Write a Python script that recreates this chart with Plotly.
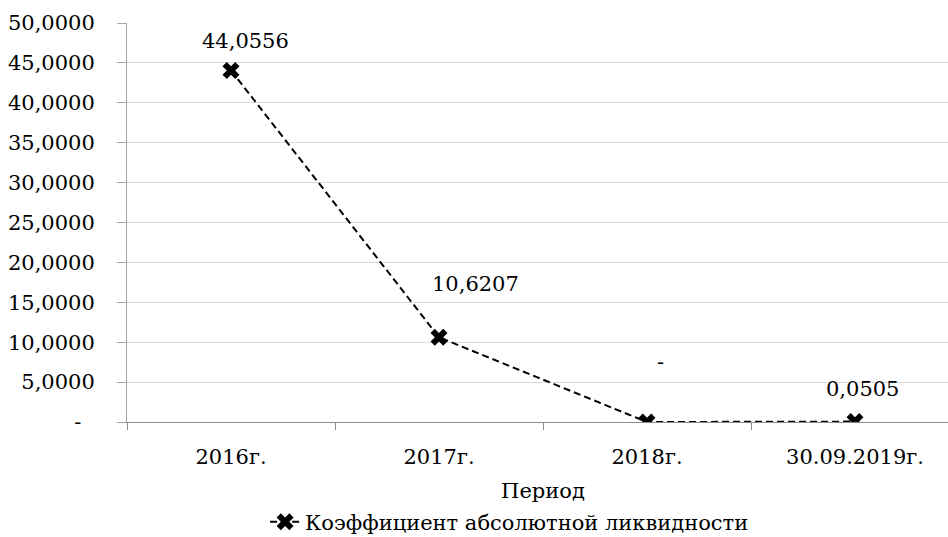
import plotly.graph_objects as go

periods = ["2016г.", "2017г.", "2018г.", "30.09.2019г."]
values = [44.0556, 10.6207, 0.0, 0.0505]
value_labels = ["44,0556", "10,6207", "-", "0,0505"]
series_name = "Коэффициент абсолютной ликвидности"
y_tickvals = [0, 5, 10, 15, 20, 25, 30, 35, 40, 45, 50]
y_ticktext = ["-\u00a0\u00a0", "5,0000", "10,0000", "15,0000", "20,0000", "25,0000",
              "30,0000", "35,0000", "40,0000", "45,0000", "50,0000"]
x_title = "Период"

FONT = "DejaVu Serif"
FS = 21

fig = go.Figure()
fig.add_trace(go.Scatter(
    x=periods, y=values, mode="lines+markers", name=series_name,
    line=dict(color="black", width=2, dash="7px,4px"),
    marker=dict(symbol="x", size=15, color="black"),
))

# label offsets (pixels) relative to points, Excel-like placement
offsets = [(14, 29), (36, 53), (13, 60), (7, 33)]
for p, v, t, (dx, dy) in zip(periods, values, value_labels, offsets):
    fig.add_annotation(x=p, y=v, text=t, showarrow=False, xshift=dx, yshift=dy,
                       font=dict(family=FONT, size=FS, color="black"))

fig.update_layout(
    width=959, height=552,
    margin=dict(l=127, r=0, t=23, b=130),
    paper_bgcolor="white", plot_bgcolor="white",
    font=dict(family=FONT, size=FS, color="black"),
    showlegend=True,
    legend=dict(orientation="h", x=0.166, xanchor="left", y=-0.251, yanchor="middle",
                font=dict(family=FONT, size=FS), bgcolor="rgba(0,0,0,0)"),
    xaxis=dict(
        title=dict(text=x_title, font=dict(family=FONT, size=FS), standoff=15),
        showgrid=False, showline=True, linecolor="#8c8c8c", linewidth=1,
        ticks="outside", tickson="boundaries", ticklen=7, tickcolor="#8c8c8c",
        range=[-0.5, 3.5], zeroline=False, automargin=False, ticklabelstandoff=16,
    ),
    yaxis=dict(
        range=[0, 50], tickvals=y_tickvals, ticktext=y_ticktext,
        showgrid=True, gridcolor="#d9d9d9", gridwidth=1,
        showline=True, linecolor="#a6a6a6", linewidth=1,
        ticks="outside", ticklen=9, tickcolor="#a6a6a6",
        zeroline=False, ticklabelstandoff=18, automargin=False,
    ),
)

fig.write_html("out.html", config={"displayModeBar": False},
               post_script="document.body.style.margin='0';document.body.style.overflow='hidden';")
